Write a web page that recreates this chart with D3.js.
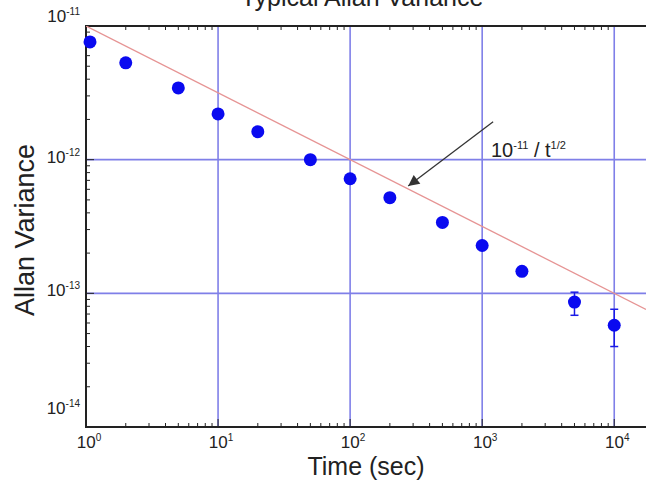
<!DOCTYPE html>
<html><head><meta charset="utf-8">
<script src="https://cdn.jsdelivr.net/npm/d3@7"></script>
<style>body{margin:0;background:#fff} svg{display:block}</style>
</head><body>
<svg id="c" width="646" height="480"></svg>
<script>
// ---- data ----
const tau = [1, 2, 5, 10, 20, 50, 100, 200, 500, 1000, 2000, 5000, 10000];
const allanVar = [7.6e-12, 5.3e-12, 3.44e-12, 2.2e-12, 1.62e-12, 1.0e-12, 7.2e-13, 5.2e-13, 3.39e-13, 2.28e-13, 1.46e-13, 8.6e-14, 5.77e-14];
const errLow  = [null, null, null, null, null, null, null, null, null, null, null, 6.85e-14, 4.0e-14];
const errHigh = [null, null, null, null, null, null, null, null, null, null, null, 1.02e-13, 7.6e-14];
const xTickExps = [0, 1, 2, 3, 4];
const yTickExps = [-11, -12, -13, -14];
const fitCoef = 1e-11;   // reference line 1e-11 / t^(1/2)
const fitPower = 0.5;
const titleText = "Typical Allan Variance";
const xLabel = "Time (sec)";
const yLabel = "Allan Variance";

// ---- layout ----
const svg = d3.select("#c");
const L = 86, R = 646, T = 26, B = 427;
const x = d3.scaleLog().domain([1, 1.74e4]).range([L, R]);
const y = d3.scaleLog().domain([1e-14, 1e-11]).range([B, T]);
const gridCol = "#7f7fe8", axisCol = "#222";

svg.append("defs").append("clipPath").attr("id", "clip")
  .append("rect").attr("x", L).attr("y", T).attr("width", R - L).attr("height", B - T);

// grid lines
svg.append("g").selectAll("line").data(xTickExps.filter(e => e > 0)).join("line")
  .attr("x1", e => x(10 ** e)).attr("x2", e => x(10 ** e))
  .attr("y1", T).attr("y2", B)
  .attr("stroke", gridCol).attr("stroke-width", 1.6);
svg.append("g").selectAll("line").data(yTickExps.filter(e => e > -14 && e < -11)).join("line")
  .attr("y1", e => y(10 ** e)).attr("y2", e => y(10 ** e))
  .attr("x1", L).attr("x2", R)
  .attr("stroke", gridCol).attr("stroke-width", 1.6);

// minor ticks
const xMinor = [];
for (let k = 0; k <= 4; k++) for (let m = 2; m <= 9; m++) { const v = m * 10 ** k; if (v < 1.74e4) xMinor.push(v); }
const yMinor = [];
for (let k = -14; k < -11; k++) for (let m = 2; m <= 9; m++) yMinor.push(m * 10 ** k);
const tk = svg.append("g").attr("stroke", axisCol).attr("stroke-width", 1);
tk.selectAll(".xb").data(xMinor).join("line").attr("class", "xb")
  .attr("x1", d => x(d)).attr("x2", d => x(d)).attr("y1", B).attr("y2", B - 4);
tk.selectAll(".xt").data(xMinor).join("line").attr("class", "xt")
  .attr("x1", d => x(d)).attr("x2", d => x(d)).attr("y1", T).attr("y2", T + 4);
tk.selectAll(".yl").data(yMinor).join("line").attr("class", "yl")
  .attr("y1", d => y(d)).attr("y2", d => y(d)).attr("x1", L).attr("x2", L + 4);
tk.selectAll(".xM").data(xTickExps).join("line").attr("class", "xM")
  .attr("x1", e => x(10 ** e)).attr("x2", e => x(10 ** e)).attr("y1", B).attr("y2", B - 8);
tk.selectAll(".yM").data(yTickExps).join("line").attr("class", "yM")
  .attr("y1", e => y(10 ** e)).attr("y2", e => y(10 ** e)).attr("x1", L).attr("x2", L + 8);

// axes frame
svg.append("path").attr("d", `M${R},${T}H${L}V${B}H${R}`)
  .attr("fill", "none").attr("stroke", axisCol).attr("stroke-width", 2);

// reference line
const fit = t => fitCoef / Math.pow(t, fitPower);
svg.append("path").attr("clip-path", "url(#clip)")
  .datum([1, 1.74e4])
  .attr("d", d3.line().x(t => x(t)).y(t => y(fit(t))))
  .attr("fill", "none").attr("stroke", "#e69494").attr("stroke-width", 1.3);

// error bars
const eb = svg.append("g").attr("stroke", "#1a1ae6").attr("stroke-width", 1.5);
tau.forEach((t, i) => {
  if (errLow[i] == null) return;
  const cx = x(t);
  eb.append("line").attr("x1", cx).attr("x2", cx).attr("y1", y(errLow[i])).attr("y2", y(errHigh[i]));
  eb.append("line").attr("x1", cx - 4).attr("x2", cx + 4).attr("y1", y(errLow[i])).attr("y2", y(errLow[i]));
  eb.append("line").attr("x1", cx - 4).attr("x2", cx + 4).attr("y1", y(errHigh[i])).attr("y2", y(errHigh[i]));
});

// points
svg.append("g").selectAll("circle").data(tau.map((t, i) => [t, allanVar[i]])).join("circle")
  .attr("cx", d => x(d[0]) + (d[0] === 1 ? 4 : 0)).attr("cy", d => y(d[1])).attr("r", 6.5)
  .attr("fill", "#0a0af0");

// tick labels
const font = "'Liberation Sans', Arial, Helvetica, sans-serif";
const xl = svg.append("g").attr("font-family", font).attr("fill", "#222");
xTickExps.forEach(e => {
  const t = xl.append("text").attr("x", x(10 ** e) + 3).attr("y", 448)
    .attr("text-anchor", "middle").attr("font-size", 17);
  t.append("tspan").text("10");
  t.append("tspan").attr("dy", -7).attr("font-size", 10).text(e);
});
const yOff = {"-11": -9, "-12": -2, "-13": -2, "-14": -18};
yTickExps.forEach(e => {
  const t = xl.append("text").attr("x", 80).attr("y", y(10 ** e) + 5 + yOff[e])
    .attr("text-anchor", "end").attr("font-size", 17);
  t.append("tspan").text("10");
  t.append("tspan").attr("dy", -7).attr("font-size", 10).text(e);
});

// titles
svg.append("text").attr("x", 362).attr("y", 6).attr("text-anchor", "middle")
  .attr("font-family", font).attr("font-size", 25).attr("fill", "#222").text(titleText);
svg.append("text").attr("x", 366).attr("y", 475).attr("text-anchor", "middle")
  .attr("font-family", font).attr("font-size", 25).attr("fill", "#222").text(xLabel);
svg.append("text").attr("transform", "translate(34,230) rotate(-90)").attr("text-anchor", "middle")
  .attr("font-family", font).attr("font-size", 27).attr("fill", "#222").text(yLabel);

// annotation arrow
svg.select("defs").append("marker").attr("id", "ah").attr("viewBox", "0 0 10 10")
  .attr("refX", 10).attr("refY", 5).attr("markerWidth", 15).attr("markerHeight", 11)
  .attr("markerUnits", "userSpaceOnUse").attr("orient", "auto")
  .append("path").attr("d", "M0,0L10,5L0,10Z").attr("fill", "#333");
const tipT = 10 ** 2.44, tailT = 10 ** 3.083, tailV = 10 ** -11.716;
svg.append("line").attr("x1", x(tailT)).attr("y1", y(tailV))
  .attr("x2", x(tipT)).attr("y2", y(fit(tipT)) - 3)
  .attr("stroke", "#333").attr("stroke-width", 1.3).attr("marker-end", "url(#ah)");
const ann = svg.append("text").attr("x", 491).attr("y", 157)
  .attr("font-family", font).attr("font-size", 20).attr("fill", "#222");
ann.append("tspan").text("10");
ann.append("tspan").attr("dy", -8).attr("font-size", 11).text("-11");
ann.append("tspan").attr("dy", 8).text(" / t");
ann.append("tspan").attr("dy", -8).attr("font-size", 11).text("1/2");
</script>
</body></html>
